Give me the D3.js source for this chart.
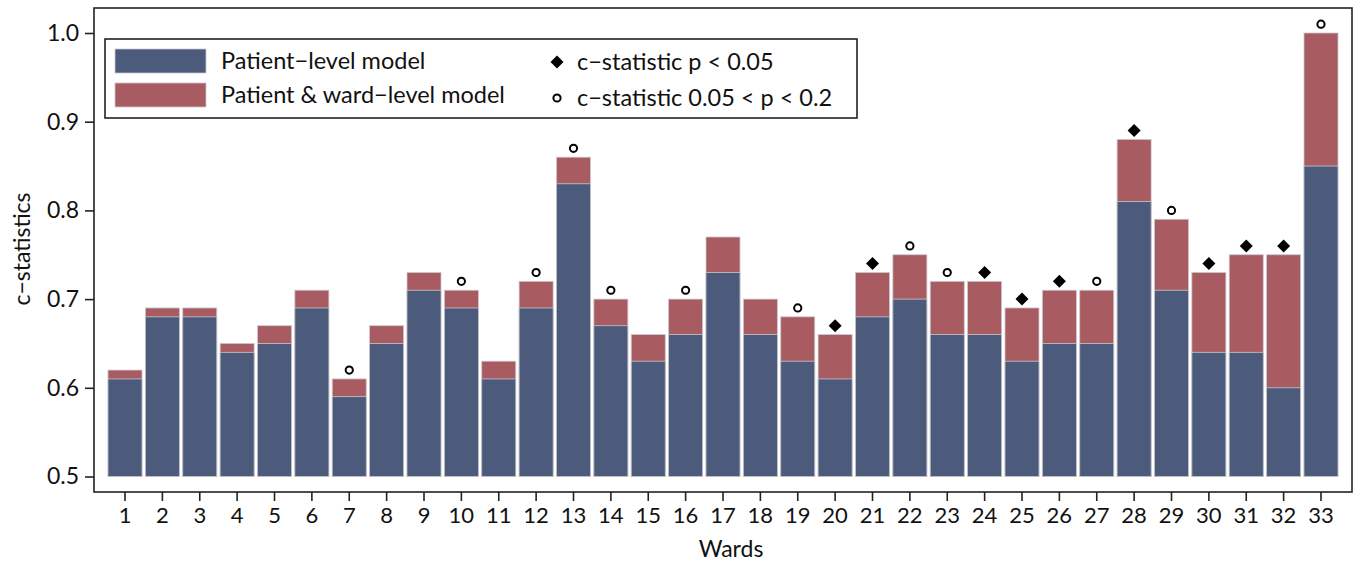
<!DOCTYPE html>
<meta charset="utf-8">
<style>
body { margin: 0; background: #fff; }
svg text { font-family: Lato, "Open Sans", sans-serif; fill: #111; }
.axis path, .axis line { stroke: #222; stroke-width: 1.6px; }
</style>
<svg width="1356" height="563"></svg>
<script src="https://d3js.org/d3.v7.min.js"></script>
<script>

// wards and c-statistics
var wards = d3.range(1, 34).map(String);
var patientLevel = [0.61, 0.68, 0.68, 0.64, 0.65, 0.69, 0.59, 0.65, 0.71, 0.69, 0.61,
  0.69, 0.83, 0.67, 0.63, 0.66, 0.73, 0.66, 0.63, 0.61, 0.68, 0.70, 0.66, 0.66,
  0.63, 0.65, 0.65, 0.81, 0.71, 0.64, 0.64, 0.60, 0.85];
var wardLevel = [0.62, 0.69, 0.69, 0.65, 0.67, 0.71, 0.61, 0.67, 0.73, 0.71, 0.63,
  0.72, 0.86, 0.70, 0.66, 0.70, 0.77, 0.70, 0.68, 0.66, 0.73, 0.75, 0.72, 0.72,
  0.69, 0.71, 0.71, 0.88, 0.79, 0.73, 0.75, 0.75, 1.00];
// "d" = p < 0.05, "c" = 0.05 < p < 0.2, "" = none
var signif = ["", "", "", "", "", "", "c", "", "", "c", "", "c", "c", "c", "", "c", "",
  "", "c", "d", "d", "c", "c", "d", "d", "d", "c", "d", "c", "d", "d", "d", "c"];
var yTicks = [0.5, 0.6, 0.7, 0.8, 0.9, 1.0];

var blue = "#4c5a7b", red = "#a95b62";

var svg = d3.select("svg");
var box = {left: 94, top: 8, right: 1352, bottom: 492};

var x = d3.scaleBand()
    .domain(wards)
    .range([108, 1338])
    .paddingInner(0.09)
    .paddingOuter(0);

var y = d3.scaleLinear()
    .domain([0.5, 1.0])
    .range([476.5, 33]);

var rows = wards.map(function(w, i) {
  return {ward: w, p: patientLevel[i], pw: wardLevel[i], s: signif[i]};
});

// frame
svg.append("rect")
    .attr("x", box.left).attr("y", box.top)
    .attr("width", box.right - box.left).attr("height", box.bottom - box.top)
    .attr("fill", "none").attr("stroke", "#222").attr("stroke-width", 1.6);

// bars: ward model on bottom, patient model drawn over
var g = svg.append("g");
g.selectAll("rect.pw")
  .data(rows)
  .enter().append("rect")
    .attr("class", "pw")
    .attr("x", function(d) { return x(d.ward); })
    .attr("y", function(d) { return y(d.pw); })
    .attr("width", x.bandwidth())
    .attr("height", function(d) { return y(0.5) - y(d.pw); })
    .attr("fill", red)
    .attr("stroke", "#c9c9cf").attr("stroke-width", 0.8);

g.selectAll("rect.p")
  .data(rows)
  .enter().append("rect")
    .attr("class", "p")
    .attr("x", function(d) { return x(d.ward); })
    .attr("y", function(d) { return y(d.p); })
    .attr("width", x.bandwidth())
    .attr("height", function(d) { return y(0.5) - y(d.p); })
    .attr("fill", blue)
    .attr("stroke", "#c9c9cf").attr("stroke-width", 0.8);

// significance markers
g.selectAll("path.mk")
  .data(rows.filter(function(d) { return d.s; }))
  .enter().append("path")
    .attr("class", "mk")
    .attr("transform", function(d) {
      return "translate(" + (x(d.ward) + x.bandwidth() / 2) + "," + y(d.pw + 0.01) + ")";
    })
    .attr("d", function(d) {
      return d.s == "d" ? "M0,-6.5L6.5,0L0,6.5L-6.5,0Z" : d3.arc()({innerRadius: 0, outerRadius: 3.6, startAngle: 0, endAngle: 2 * Math.PI});
    })
    .attr("fill", function(d) { return d.s == "d" ? "#000" : "#fff"; })
    .attr("stroke", "#000")
    .attr("stroke-width", function(d) { return d.s == "d" ? 0 : 2; });

// axes
var yAxis = svg.append("g")
    .attr("class", "axis")
    .attr("transform", "translate(" + box.left + ",0)")
    .call(d3.axisLeft(y).tickValues(yTicks).tickFormat(d3.format(".1f")).tickSize(9).tickPadding(6));
yAxis.select(".domain").remove();
yAxis.selectAll("text").style("font-size", "23px");

var xAxis = svg.append("g")
    .attr("class", "axis")
    .attr("transform", "translate(0," + box.bottom + ")")
    .call(d3.axisBottom(x).tickSize(9).tickPadding(6));
xAxis.select(".domain").remove();
xAxis.selectAll("text").style("font-size", "22px");

svg.append("text")
    .attr("x", (box.left + box.right) / 2 + 8)
    .attr("y", 557)
    .attr("text-anchor", "middle")
    .style("font-size", "23px")
    .text("Wards");

svg.append("text")
    .attr("transform", "translate(30,249) rotate(-90)")
    .attr("text-anchor", "middle")
    .style("font-size", "23px")
    .text("c\u2212statistics");

// legend
var leg = svg.append("g");
leg.append("rect")
    .attr("x", 105).attr("y", 39).attr("width", 752).attr("height", 79)
    .attr("fill", "#fff").attr("stroke", "#222").attr("stroke-width", 1.6);

var barItems = [{label: "Patient\u2212level model", color: blue}, {label: "Patient & ward\u2212level model", color: red}];
barItems.forEach(function(it, i) {
  leg.append("rect")
      .attr("x", 115).attr("y", 49 + i * 34).attr("width", 91).attr("height", 24)
      .attr("fill", it.color).attr("stroke", "#c9c9cf").attr("stroke-width", 0.8);
  leg.append("text")
      .attr("x", 221).attr("y", 61 + i * 34).attr("dy", "0.35em")
      .style("font-size", "23.5px")
      .text(it.label);
});

var markItems = [{label: "c\u2212statistic p < 0.05", s: "d"}, {label: "c\u2212statistic 0.05 < p < 0.2", s: "c"}];
markItems.forEach(function(it, i) {
  var cy = 62 + i * 36;
  if (it.s == "d") {
    leg.append("path").attr("transform", "translate(557," + cy + ")")
        .attr("d", "M0,-6.5L6.5,0L0,6.5L-6.5,0Z").attr("fill", "#000");
  } else {
    leg.append("circle").attr("cx", 557).attr("cy", cy).attr("r", 3.6)
        .attr("fill", "#fff").attr("stroke", "#000").attr("stroke-width", 2);
  }
  leg.append("text")
      .attr("x", 577).attr("y", cy).attr("dy", "0.35em")
      .style("font-size", "23.5px")
      .text(it.label);
});

</script>
